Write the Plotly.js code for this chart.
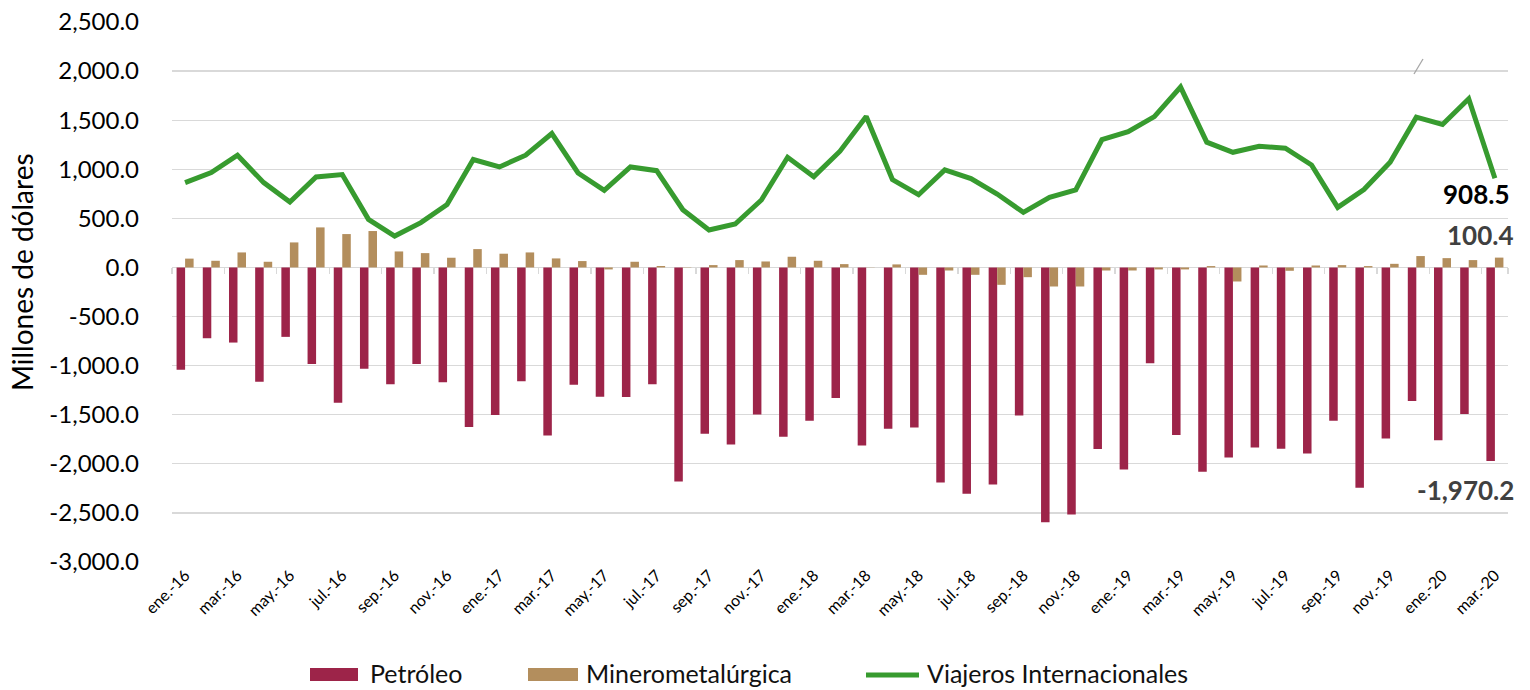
<!DOCTYPE html>
<html>
<head>
<meta charset="utf-8">
<script src="https://cdn.plot.ly/plotly-3.0.1.min.js"></script>
<style>
  html, body { margin: 0; padding: 0; background: #ffffff; }
  #chart { width: 1530px; height: 690px; }
</style>
</head>
<body>
<div id="chart"></div>
<script>
// ---- Data (millones de dólares) ----
const categories = [
  "ene.-16","feb.-16","mar.-16","abr.-16","may.-16","jun.-16","jul.-16","ago.-16","sep.-16","oct.-16","nov.-16","dic.-16",
  "ene.-17","feb.-17","mar.-17","abr.-17","may.-17","jun.-17","jul.-17","ago.-17","sep.-17","oct.-17","nov.-17","dic.-17",
  "ene.-18","feb.-18","mar.-18","abr.-18","may.-18","jun.-18","jul.-18","ago.-18","sep.-18","oct.-18","nov.-18","dic.-18",
  "ene.-19","feb.-19","mar.-19","abr.-19","may.-19","jun.-19","jul.-19","ago.-19","sep.-19","oct.-19","nov.-19","dic.-19",
  "ene.-20","feb.-20","mar.-20"
];

const petroleo = [
  -1041, -721, -765, -1163, -707, -983, -1378, -1031, -1190, -983, -1170, -1626,
  -1503, -1160, -1711, -1194, -1316, -1320, -1190, -2180, -1694, -1803, -1497, -1724,
  -1561, -1330, -1813, -1643, -1629, -2190, -2306, -2211, -1507, -2595, -2517, -1850,
  -2058, -976, -1707, -2082, -1935, -1833, -1847, -1895, -1561, -2245, -1741, -1361,
  -1759, -1493, -1970.2
];

const minerometalurgica = [
  90, 68, 153, 58, 255, 408, 340, 371, 163, 146, 99, 187,
  140, 153, 92, 65, -20, 58, 15, 3, 24, 75, 61, 109,
  68, 34, 2, 31, -75, -31, -75, -177, -99, -194, -194, -31,
  -31, -20, -20, 14, -143, 20, -34, 20, 24, 14, 37, 116,
  95, 75, 100.4
];

const viajeros = [
  864, 966, 1143, 864, 666, 921, 946, 490, 320, 456, 640, 1099,
  1024, 1143, 1364, 962, 786, 1024, 986, 588, 381, 442, 687, 1122,
  925, 1184, 1537, 895, 741, 993, 905, 748, 561, 714, 789, 1303,
  1384, 1537, 1837, 1276, 1173, 1235, 1214, 1044, 612, 793, 1071, 1531,
  1456, 1718, 908.5
];

const seriesNames = ["Petróleo", "Minerometalúrgica", "Viajeros Internacionales"];
const yAxisTitle = "Millones de dólares";
const yTickVals = [2500, 2000, 1500, 1000, 500, 0, -500, -1000, -1500, -2000, -2500, -3000];
const yTickText = ["2,500.0","2,000.0","1,500.0","1,000.0","500.0","0.0","-500.0","-1,000.0","-1,500.0","-2,000.0","-2,500.0","-3,000.0"];
const xTickVals = categories.filter((c, i) => i % 2 === 0);

// ---- Styling ----
const FONT = "Lato, 'Open Sans', 'Liberation Sans', sans-serif";
const COL_PET = "#9D2449";
const COL_MIN = "#B38E5D";
const COL_VIA = "#379B2F";
const seriesColors = [COL_PET, COL_MIN, COL_VIA];

// plot area in pixels (for placing layout decorations)
const W = 1530, H = 690, ML = 172, MR = 22, MT = 22, MB = 128;
const PW = W - ML - MR, PH = H - MT - MB;
const px2x = p => (p - ML) / PW;
const px2y = p => (H - MB - p) / PH;

function fmt(v) {
  return v.toLocaleString("en-US", { minimumFractionDigits: 1, maximumFractionDigits: 1 });
}

const last = categories.length - 1;

const traces = [
  {
    type: "bar", name: seriesNames[0], x: categories, y: petroleo,
    marker: { color: COL_PET, line: { width: 0 } }, hoverinfo: "x+y", showlegend: false
  },
  {
    type: "bar", name: seriesNames[1], x: categories, y: minerometalurgica,
    marker: { color: COL_MIN, line: { width: 0 } }, hoverinfo: "x+y", showlegend: false
  },
  {
    type: "scatter", mode: "lines", name: seriesNames[2], x: categories, y: viajeros,
    xaxis: "x2", yaxis: "y",
    line: { color: COL_VIA, width: 5 }, hoverinfo: "x+y", showlegend: false
  }
];

// custom Excel-like legend (swatches + labels)
const legendShapes = [
  { type: "rect", xref: "paper", yref: "paper",
    x0: px2x(310), x1: px2x(358), y0: px2y(681), y1: px2y(668),
    fillcolor: seriesColors[0], line: { width: 0 } },
  { type: "rect", xref: "paper", yref: "paper",
    x0: px2x(528), x1: px2x(578), y0: px2y(681), y1: px2y(668),
    fillcolor: seriesColors[1], line: { width: 0 } },
  { type: "line", xref: "paper", yref: "paper",
    x0: px2x(866), x1: px2x(919), y0: px2y(675), y1: px2y(675),
    line: { color: seriesColors[2], width: 5 } }
];
const legendTextX = [368, 584, 925];
const legendAnns = seriesNames.map((n, i) => ({
  xref: "paper", yref: "paper", x: px2x(legendTextX[i]), y: px2y(673),
  xanchor: "left", yanchor: "middle", text: n, showarrow: false,
  font: { family: FONT, size: 25, color: "#111111" }
}));

const layout = {
  width: W, height: H,
  margin: { l: ML, r: MR, t: MT, b: MB, pad: 0, autoexpand: false },
  paper_bgcolor: "#ffffff", plot_bgcolor: "#ffffff",
  font: { family: FONT, color: "#000000" },
  barmode: "group", bargap: 0.35, bargroupgap: 0,
  showlegend: false,
  xaxis: {
    type: "category", categoryorder: "array", categoryarray: categories,
    range: [-0.5, categories.length - 0.5],
    tickmode: "array", tickvals: xTickVals, ticktext: xTickVals,
    tickangle: -45, tickfont: { family: FONT, size: 16, color: "#000000" },
    showgrid: false, showline: false, zeroline: false, ticks: "",
    fixedrange: true, automargin: false
  },
  xaxis2: {
    type: "category", categoryorder: "array", categoryarray: categories,
    overlaying: "x", anchor: "free", position: 3000 / 5500,
    range: [-0.5, categories.length - 0.5],
    tickmode: "array", tickvals: xTickVals,
    ticks: "outside", tickson: "boundaries", ticklen: 6, tickwidth: 1.3, tickcolor: "#D9D9D9",
    showticklabels: false, showgrid: false, showline: false, zeroline: false,
    fixedrange: true, automargin: false
  },
  yaxis: {
    range: [-3000, 2500],
    tickmode: "array", tickvals: yTickVals, ticktext: yTickText,
    tickfont: { family: FONT, size: 24, color: "#000000" },
    ticklabelstandoff: 32,
    showgrid: true, gridcolor: "#D9D9D9", gridwidth: 1.3,
    zeroline: true, zerolinecolor: "#D9D9D9", zerolinewidth: 1.6,
    showline: false, ticks: "",
    fixedrange: true, automargin: false
  },
  annotations: [
    {
      xref: "paper", yref: "paper", x: px2x(22), y: px2y(272),
      xanchor: "center", yanchor: "middle", textangle: -90,
      text: yAxisTitle, showarrow: false,
      font: { family: FONT, size: 28, color: "#000000" }
    },
    {
      xref: "x", yref: "y", x: categories[last], y: viajeros[last],
      text: "<b>" + fmt(viajeros[last]) + "</b>", showarrow: false,
      font: { family: FONT, size: 26, color: "#000000" }, xshift: -18, yshift: -16
    },
    {
      xref: "x", yref: "y", x: categories[last], y: minerometalurgica[last],
      text: "<b>" + fmt(minerometalurgica[last]) + "</b>", showarrow: false,
      font: { family: FONT, size: 26, color: "#404040" }, xshift: -14, yshift: 23
    },
    {
      xref: "x", yref: "y", x: categories[last], y: petroleo[last],
      text: "<b>" + fmt(petroleo[last]) + "</b>", showarrow: false,
      font: { family: FONT, size: 26, color: "#404040" }, xshift: -29, yshift: -29
    }
  ].concat(legendAnns),
  shapes: [
    {
      type: "line", xref: "paper", yref: "paper",
      x0: px2x(1414), y0: px2y(74), x1: px2x(1423), y1: px2y(59),
      line: { color: "#A6A6A6", width: 1.3 }
    }
  ].concat(legendShapes)
};

Plotly.newPlot("chart", traces, layout, { displayModeBar: false, staticPlot: true });
</script>
</body>
</html>
